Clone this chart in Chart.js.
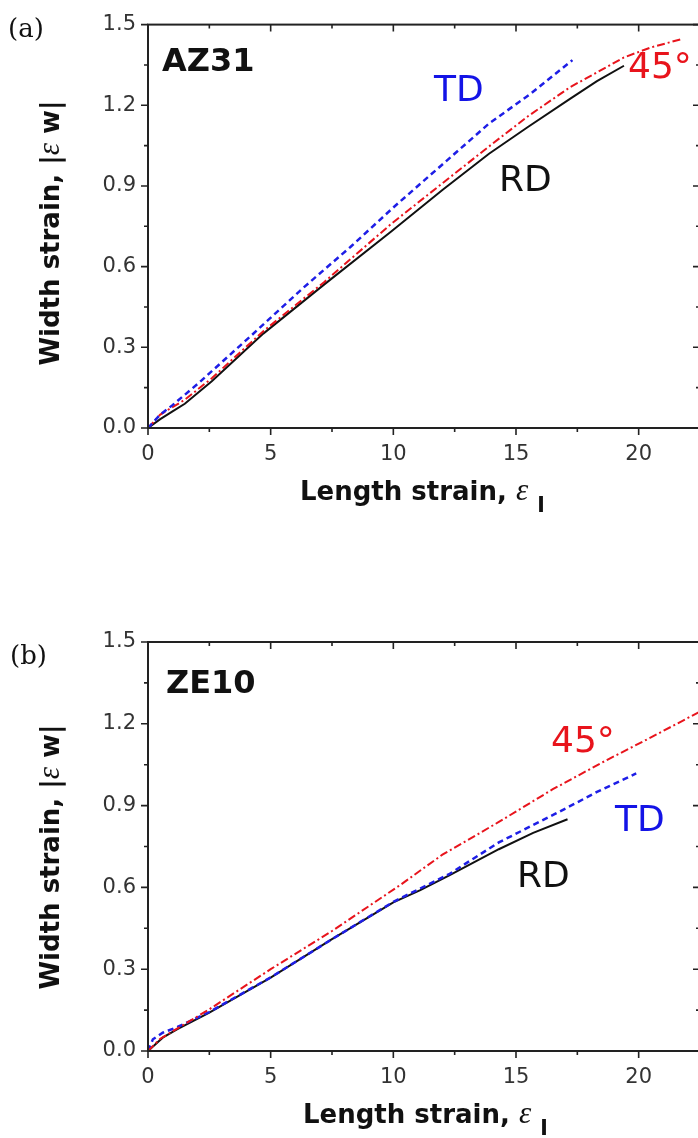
<!DOCTYPE html>
<html>
<head>
<meta charset="utf-8">
<script src="https://cdn.jsdelivr.net/npm/chart.js@4.4.1/dist/chart.umd.min.js"></script>
<style>
  html, body { margin: 0; padding: 0; background: #fff; }
  #fig { position: relative; width: 698px; height: 1138px; overflow: hidden; background: #fff; }
  canvas { position: absolute; left: 0; }
  .txt { position: absolute; white-space: nowrap; line-height: 1; }
  .panel { font-family: "DejaVu Serif", serif; font-size: 26px; color: #111; }
  .alloy { font-family: "DejaVu Sans", sans-serif; font-weight: bold; font-size: 32px; color: #111; }
  .dir { font-family: "DejaVu Sans", sans-serif; font-size: 36px; }
  .axt { font-family: "DejaVu Sans", sans-serif; font-weight: bold; font-size: 26px; color: #111; }
  .eps { font-family: "Liberation Serif", serif; font-style: italic; font-weight: normal; font-size: 31px; line-height: 0; }
  .sub { font-size: 22px; position: relative; top: 12px; line-height: 0; }
  .ytitle { width: 300px; height: 26px; text-align: center; transform: rotate(-90deg); }
</style>
</head>
<body>
<div id="fig">
  <canvas id="chartA" width="710" height="540" style="top:0"></canvas>
  <canvas id="chartB" width="710" height="538" style="top:600px"></canvas>

  <div class="txt panel" style="left:8px;top:15px">(a)</div>
  <div class="txt alloy" style="left:162px;top:44px">AZ31</div>
  <div class="txt dir" style="left:434px;top:71px;color:#1414e6">TD</div>
  <div class="txt dir" style="left:628px;top:48px;color:#e8141c">45°</div>
  <div class="txt dir" style="left:499px;top:161px;color:#111">RD</div>
  <div class="txt axt ytitle" style="left:-100px;top:220px">Width strain, |<span class="eps">ε</span> w|</div>
  <div class="txt axt" style="left:300px;top:478px">Length strain, <span class="eps">ε</span> <span class="sub">l</span></div>

  <div class="txt panel" style="left:10px;top:642px">(b)</div>
  <div class="txt alloy" style="left:166px;top:666px">ZE10</div>
  <div class="txt dir" style="left:551px;top:722px;color:#e8141c">45°</div>
  <div class="txt dir" style="left:615px;top:801px;color:#1414e6">TD</div>
  <div class="txt dir" style="left:517px;top:857px;color:#111">RD</div>
  <div class="txt axt ytitle" style="left:-100px;top:844px">Width strain, |<span class="eps">ε</span> w|</div>
  <div class="txt axt" style="left:303px;top:1101px">Length strain, <span class="eps">ε</span> <span class="sub">l</span></div>
</div>

<script>
// axis layout
const X_MAX = 22.5;
const Y_MAX = 1.5;
const xTicks = [0, 5, 10, 15, 20];
const yTicks = [0, 0.3, 0.6, 0.9, 1.2, 1.5];
const X_MINOR = 2.5;
const Y_MINOR = 0.15;

// AZ31 curves
const rdA_x = [0, 0.5, 1.0, 1.5, 2.6, 4.7, 7.2, 9.9, 12.0, 13.9, 15.5, 17.2, 18.3, 19.4];
const rdA_y = [0, 0.033, 0.062, 0.09, 0.174, 0.351, 0.535, 0.73, 0.885, 1.02, 1.12, 1.224, 1.29, 1.347];
const tdA_x = [0, 0.5, 1.0, 2.1, 4.2, 6.35, 8.25, 10.0, 12.0, 13.9, 15.6, 17.3];
const tdA_y = [0, 0.05, 0.085, 0.17, 0.343, 0.523, 0.673, 0.82, 0.98, 1.132, 1.243, 1.368];
const d45A_x = [0, 0.5, 1.5, 2.6, 4.7, 7.2, 9.9, 12.0, 13.9, 15.5, 17.2, 19.4, 20.5, 21.7];
const d45A_y = [0, 0.05, 0.105, 0.185, 0.36, 0.544, 0.758, 0.91, 1.047, 1.16, 1.267, 1.378, 1.415, 1.445];

// ZE10 curves
const rdB_x = [0, 0.6, 1.2, 2.5, 5.0, 7.5, 10.0, 11.1, 12.3, 14.3, 15.7, 17.1];
const rdB_y = [0, 0.049, 0.08, 0.141, 0.269, 0.41, 0.545, 0.59, 0.645, 0.74, 0.8, 0.85];
const tdB_x = [0, 0.2, 0.6, 1.2, 2.5, 5.0, 7.5, 10.0, 12.3, 14.3, 16.65, 18.3, 19.9];
const tdB_y = [0, 0.043, 0.067, 0.088, 0.143, 0.27, 0.41, 0.547, 0.65, 0.765, 0.872, 0.95, 1.018];
const d45B_x = [0, 0.5, 1.15, 2.5, 5.0, 7.5, 10.3, 12.0, 14.3, 16.5, 18.7, 20.5, 22.5];
const d45B_y = [0, 0.045, 0.08, 0.153, 0.30, 0.44, 0.61, 0.72, 0.84, 0.96, 1.067, 1.15, 1.245];

const BLACK = '#111111', BLUE = '#1e1ee6', RED = '#e8141c';

function series(xs, ys, color, width, dash) {
  return {
    data: xs.map((x, i) => ({x: x, y: ys[i]})),
    borderColor: color,
    borderWidth: width,
    borderDash: dash,
    pointRadius: 0,
    tension: 0,
    fill: false
  };
}

// box frame with Origin-style ticks: outward on left/bottom, inward on top/right
const frameTicks = {
  id: 'frameTicks',
  afterDatasetsDraw(chart) {
    const {ctx, chartArea: a, scales: {x, y}} = chart;
    ctx.save();
    ctx.strokeStyle = '#222';
    ctx.lineWidth = 2;
    ctx.strokeRect(a.left, a.top, a.right - a.left, a.bottom - a.top);
    ctx.lineWidth = 1.6;
    ctx.beginPath();
    const nx = Math.round(X_MAX / X_MINOR);
    for (let i = 0; i <= nx; i++) {
      const px = x.getPixelForValue(i * X_MINOR);
      const len = i % 2 === 0 ? 7 : 4;
      ctx.moveTo(px, a.bottom); ctx.lineTo(px, a.bottom + len);
      ctx.moveTo(px, a.top); ctx.lineTo(px, a.top + len);
    }
    const ny = Math.round(Y_MAX / Y_MINOR);
    for (let i = 0; i <= ny; i++) {
      const py = y.getPixelForValue(i * Y_MINOR);
      const len = i % 2 === 0 ? 7 : 4;
      ctx.moveTo(a.left, py); ctx.lineTo(a.left - len, py);
      ctx.moveTo(a.right, py); ctx.lineTo(a.right - len, py);
    }
    ctx.stroke();
    ctx.restore();
  }
};

function makeChart(id, sets, padTop, xAxisH) {
  const tickFont = {family: '"DejaVu Sans", sans-serif', size: 21};
  return new Chart(document.getElementById(id), {
    type: 'line',
    data: {datasets: sets},
    options: {
      responsive: false,
      animation: false,
      events: [],
      layout: {padding: {top: padTop, right: 10, left: 0, bottom: 0}},
      plugins: {legend: {display: false}, tooltip: {enabled: false}},
      scales: {
        x: {
          type: 'linear', min: 0, max: X_MAX,
          grid: {display: false, drawTicks: false},
          border: {display: false},
          afterBuildTicks: s => { s.ticks = xTicks.map(v => ({value: v})); },
          afterFit: s => { s.height = xAxisH; },
          ticks: {font: tickFont, color: '#333', padding: 14, autoSkip: false, maxRotation: 0,
                  callback: v => String(v)}
        },
        y: {
          type: 'linear', min: 0, max: Y_MAX,
          grid: {display: false, drawTicks: false},
          border: {display: false},
          afterBuildTicks: s => { s.ticks = yTicks.map(v => ({value: v})); },
          afterFit: s => { s.width = 148; },
          ticks: {font: tickFont, color: '#333', padding: 12, autoSkip: false,
                  callback: v => Number(v).toFixed(1)}
        }
      }
    },
    plugins: [frameTicks]
  });
}

makeChart('chartA', [
  series(tdA_x, tdA_y, BLUE, 2.5, [6, 4]),
  series(d45A_x, d45A_y, RED, 2, [8, 3, 2, 3]),
  series(rdA_x, rdA_y, BLACK, 2, [])
], 20, 112);

makeChart('chartB', [
  series(d45B_x, d45B_y, RED, 2, [8, 3, 2, 3]),
  series(tdB_x, tdB_y, BLUE, 2.5, [6, 4]),
  series(rdB_x, rdB_y, BLACK, 2, [])
], 42, 87);
</script>
</body>
</html>
